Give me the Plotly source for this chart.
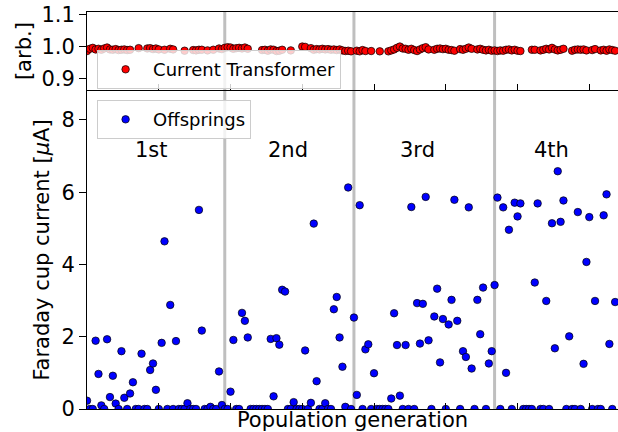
import plotly.graph_objects as go

# Normalised current-transformer reading for each individual (None = no reading)
ct_values = [
    0.986, 0.993, 0.996, 0.991, 0.993, 0.990, 0.994, 0.997, 0.991, 0.990,
    0.992, 0.989, 0.990, 0.991, 0.989, 0.990, None, None, 0.995, None,
    None, 0.994, 0.995, 0.992, 0.994, 0.991, None, 0.990, None, 0.993,
    0.991, None, None, None, 0.987, None, None, 0.989, 0.988, 0.990,
    0.990, None, 0.988, None, 0.990, None, 0.994, 0.992, 0.996, 0.998,
    0.997, 0.993, 0.995, 0.996, 0.994, 0.997, 0.993, None, None, None,
    None, 0.989, 0.990, 0.987, 0.991, 0.990, 0.986, 0.987, 0.990, None,
    None, 0.988, None, None, None, 1.000, 0.999, None, 0.995, 0.990,
    0.992, 0.991, 0.993, 0.991, 0.992, 0.990, 0.991, 0.989, 0.991, 0.988,
    0.986, 0.987, 0.985, None, 0.987, 0.985, 0.989, 0.986, None, 0.986,
    None, None, 0.985, None, None, 0.985, 0.988, 0.991, 0.996, 1.000,
    0.994, 0.993, 0.990, 0.993, 0.989, 0.986, 0.991, 0.995, 0.998, 0.991,
    None, 0.990, 0.993, 0.994, 0.992, 0.993, 0.990, 0.989, 0.987, None,
    0.992, 0.990, 0.993, 0.997, 0.993, None, 0.991, 0.993, 0.990, 0.988,
    0.990, 0.987, 0.988, 0.986, 0.988, 0.987, 0.990, 0.991, 0.988, 0.990,
    0.987, 0.986, None, None, None, 0.990, 0.990, None, 0.988, 0.990,
    0.993, 0.991, 0.996, 0.991, 0.988, 0.990, 0.993, None, None, 0.987,
    0.990, 0.991, 0.990, 0.991, 0.988, None, 0.989, 0.992, None, 0.988,
    0.990, 0.987, 0.991, 0.989, 0.987,
]

# Faraday cup current of each offspring [uA]
offspring_current = [
    0.23, 0, 0, 1.89, 0.97, 0.10, 0, 1.93, 0.33, 0.92,
    0.15, 0, 1.60, 0.31, 0, 0.43, 0.74, 0, 0, 1.53,
    0, 0, 1.08, 1.26, 0.53, 0, 1.83, 4.64, 0, 2.88,
    0, 1.88, 0, 0, 0, 0.16, 0, 0, 0, 5.51,
    2.17, 0, 0, 0.06, 0, 0, 1.04, 0.11, 0, 0,
    0.48, 1.91, 0, 0, 2.66, 2.44, 1.98, 0, 0, 0,
    0, 0, 0, 0, 1.94, 0.35, 1.96, 1.78, 3.30, 3.25,
    0, 0, 0.19, 0, 0, 0, 1.62, 0, 0.17, 5.13,
    0.77, 0, 0, 0.16, 0, 0, 2.76, 3.10, 1.98, 1.17,
    0.06, 6.13, 0, 2.53, 0.39, 5.64, 0, 1.65, 1.79, 0,
    0.99, 0, 0, 0, 0, 0, 0.29, 2.65, 1.77, 0.37,
    0, 1.77, 0, 5.59, 0, 2.93, 1.81, 2.91, 5.87, 1.90,
    0, 2.56, 3.33, 1.29, 2.49, 0, 2.34, 3.02, 5.79, 2.44,
    0, 1.60, 1.44, 5.58, 1.12, 0, 3.02, 2.07, 3.36, 0,
    1.26, 1.60, 3.43, 5.85, 0, 5.58, 1.00, 4.96, 0, 5.71,
    5.33, 5.69, 0, 0, 0, 0, 3.50, 5.69, 0, 0,
    2.99, 0, 5.14, 1.68, 6.58, 5.18, 5.77, 0, 2.01, 0,
    0, 5.45, 0, 1.25, 4.07, 5.31, 0, 2.99, 0, 0,
    5.36, 5.94, 1.80, 0, 2.96,
]

individual = list(range(len(offspring_current)))

# First individual of each new generation
generation_starts = [48, 93, 142]
generation_labels = ["1st", "2nd", "3rd", "4th"]
generation_label_x = [22.5, 70, 115, 162]

x_ticks = [25, 50, 75, 100, 125, 150, 175]

FONT = "DejaVu Sans"
LABEL_SIZE = 21

fig = go.Figure()

fig.add_trace(go.Scatter(
    x=individual, y=ct_values, mode="markers", name="Current Transformer",
    marker=dict(color="#ff0000", size=7.5, line=dict(color="black", width=0.7)),
    xaxis="x2", yaxis="y2", legend="legend", showlegend=True,
))
fig.add_trace(go.Scatter(
    x=individual, y=offspring_current, mode="markers", name="Offsprings",
    marker=dict(color="#0000ff", size=7.5, line=dict(color="black", width=0.7)),
    xaxis="x", yaxis="y", legend="legend2", showlegend=True,
))

shapes = []
for g in generation_starts:
    shapes.append(dict(type="line", xref="x", yref="paper", x0=g, x1=g, y0=0, y1=1,
                       line=dict(color="#bfbfbf", width=3), layer="below"))

annotations = []
for lab, gx in zip(generation_labels, generation_label_x):
    annotations.append(dict(x=gx, y=7.16, xref="x", yref="y", text=lab, showarrow=False,
                            font=dict(family=FONT, size=LABEL_SIZE, color="black")))

common_x = dict(range=[0, 185], tickvals=x_ticks, ticks="inside", ticklen=6,
                tickcolor="black", showticklabels=False, showgrid=False, zeroline=False,
                showline=True, linecolor="black", linewidth=1, mirror=True)

legend_style = dict(xanchor="left", yanchor="top", bgcolor="rgba(255,255,255,0.8)",
                    bordercolor="#cccccc", borderwidth=1,
                    font=dict(family=FONT, size=18), itemwidth=45)

fig.update_layout(
    width=618, height=432,
    margin=dict(l=87, r=0, t=12, b=23),
    paper_bgcolor="white", plot_bgcolor="white",
    showlegend=True,
    font=dict(family=FONT, size=LABEL_SIZE, color="black"),
    xaxis=dict(common_x, domain=[0, 1],
               title=dict(text="Population generation", standoff=4,
                          font=dict(family=FONT, size=LABEL_SIZE))),
    yaxis=dict(domain=[0, 0.801], range=[0, 8.8], tickvals=[0, 2, 4, 6, 8],
               ticks="outside", ticklen=7, tickcolor="black", showgrid=False,
               zeroline=False, showline=True, linecolor="black", linewidth=1,
               title=dict(text="Faraday cup current [<i>μ</i>A]", standoff=6,
                          font=dict(family=FONT, size=LABEL_SIZE)),
               tickfont=dict(family=FONT, size=LABEL_SIZE)),
    xaxis2=dict(common_x, domain=[0, 1], anchor="y2", matches="x"),
    yaxis2=dict(domain=[0.803, 1], range=[0.863, 1.1085], tickvals=[0.9, 1.0, 1.1],
                ticktext=["0.9", "1.0", "1.1"], anchor="x2",
                ticks="outside", ticklen=7, tickcolor="black", showgrid=False,
                zeroline=False, showline=True, linecolor="black", linewidth=1,
                title=dict(text="[arb.]", standoff=4, font=dict(family=FONT, size=LABEL_SIZE)),
                tickfont=dict(family=FONT, size=LABEL_SIZE)),
    legend=dict(legend_style, x=0.019, y=0.904),
    legend2=dict(legend_style, x=0.019, y=0.778),
    shapes=shapes,
    annotations=annotations,
)

fig.write_html("out.html")
